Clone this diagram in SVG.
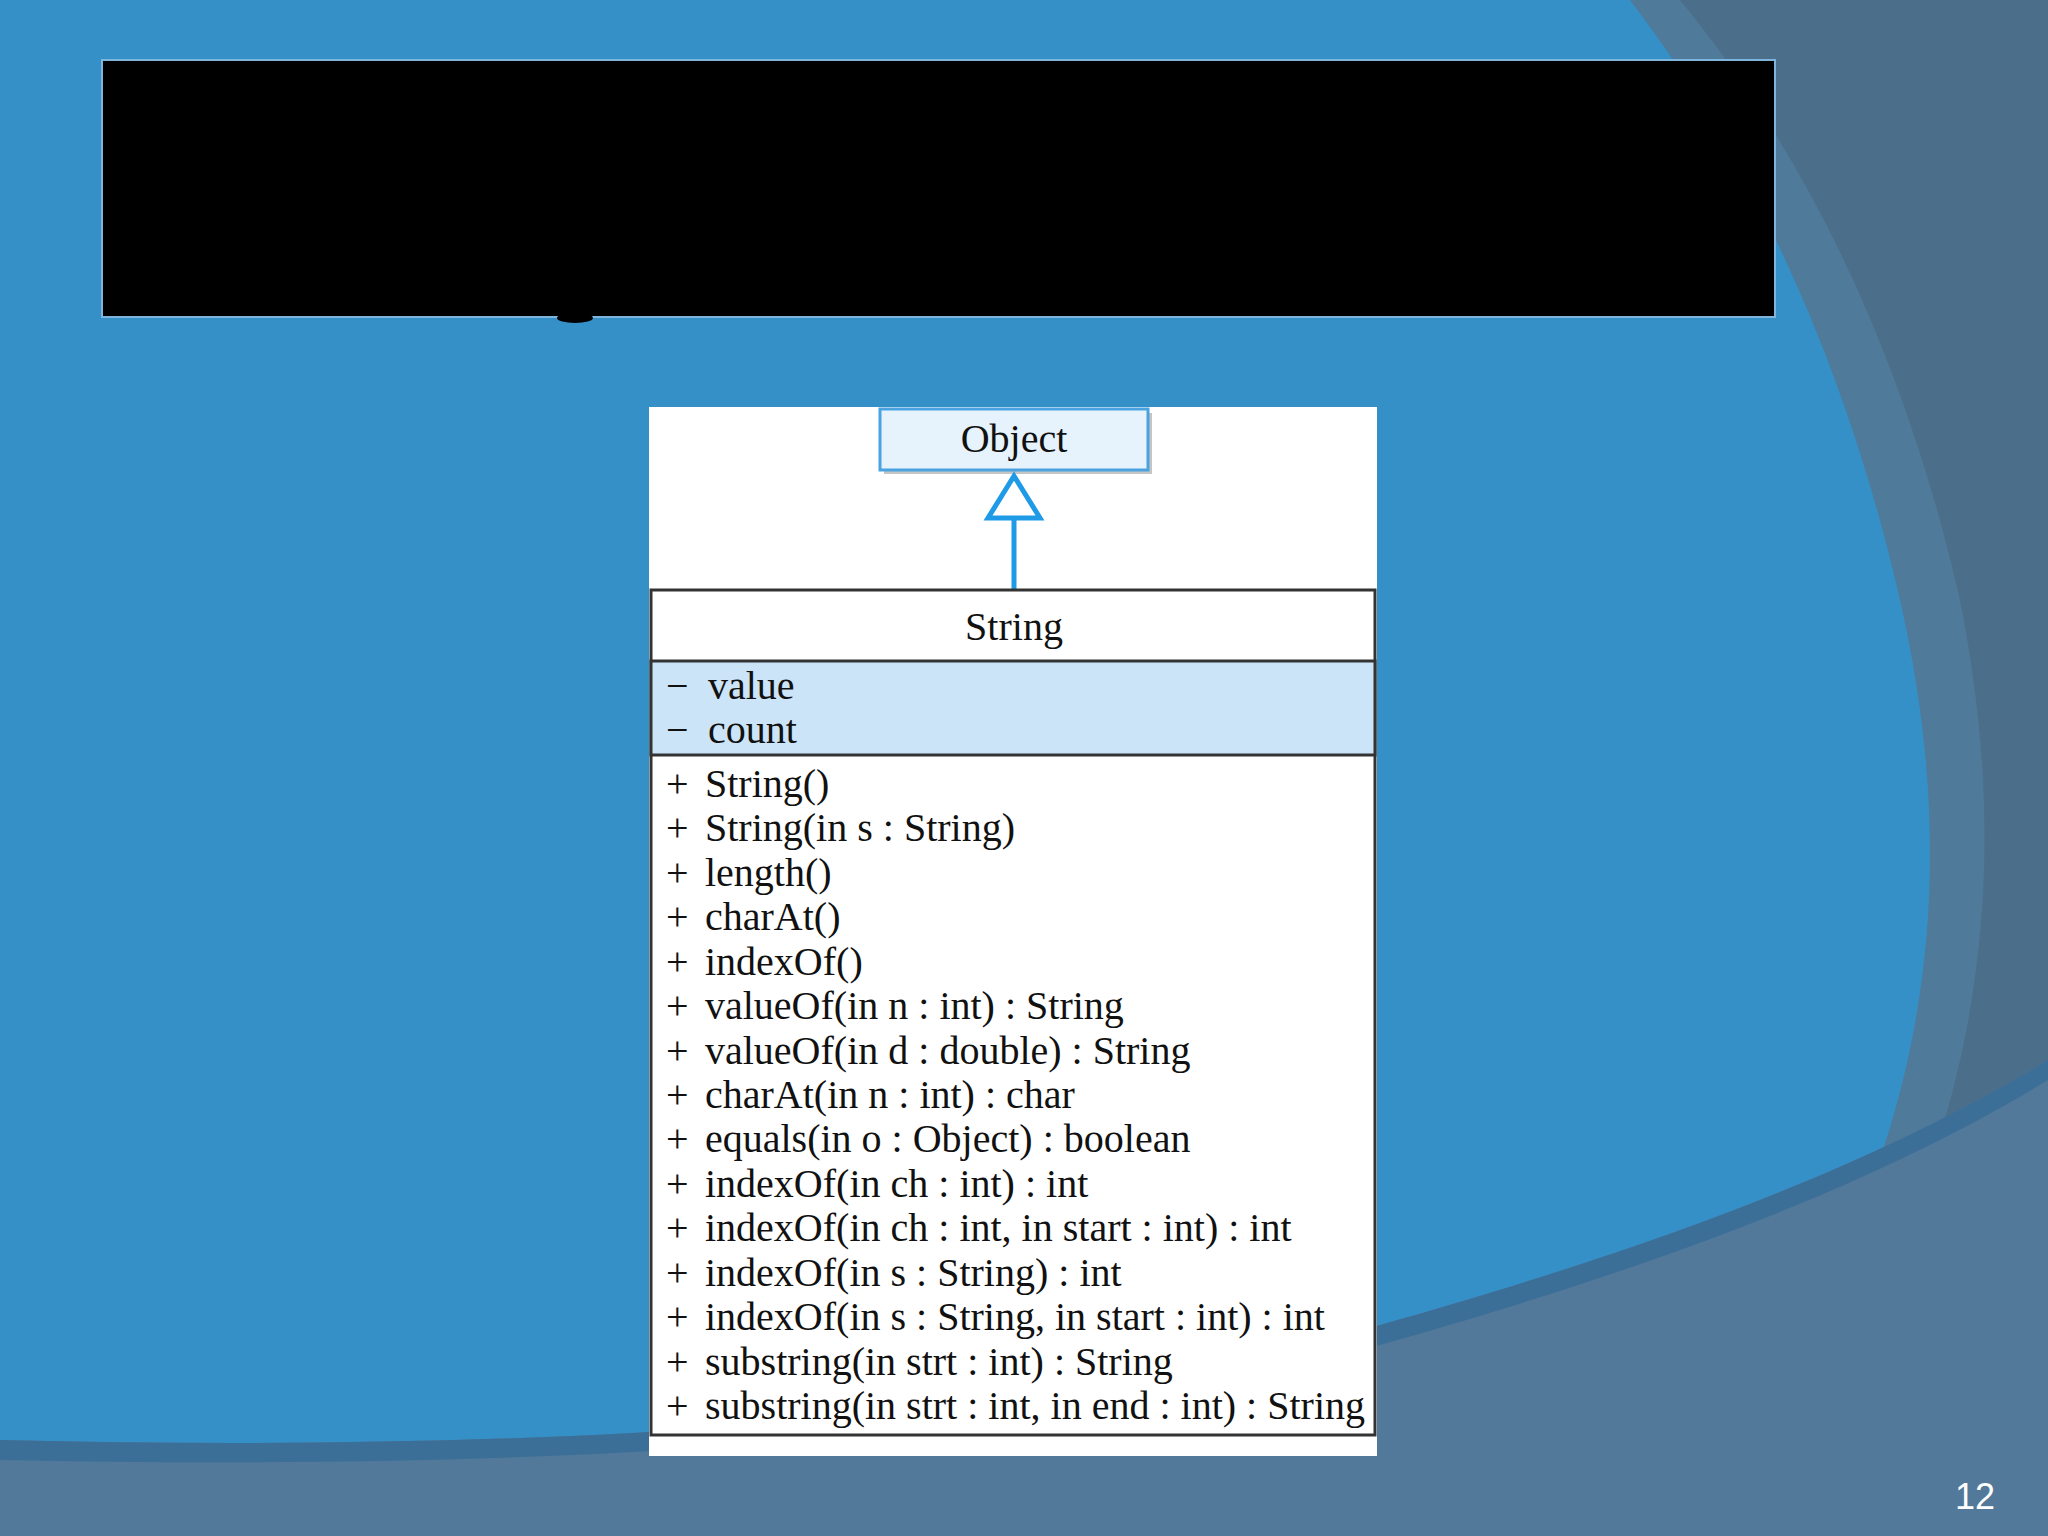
<svg xmlns="http://www.w3.org/2000/svg" width="2048" height="1536" viewBox="0 0 2048 1536">
<style>
.t{font-family:"Liberation Serif",serif;font-size:40px;fill:#111}
</style>
<rect width="2048" height="1536" fill="#3590c8"/>
<path d="M1630 0 L2048 0 L2048 1536 L1660 1536 C1900 1250 1980 950 1900 600 C1850 380 1760 170 1630 0 Z" fill="#4f7a99"/>
<path d="M1680 0 L2048 0 L2048 1536 L1720 1536 C1950 1250 2030 950 1960 600 C1910 380 1820 170 1680 0 Z" fill="#4a6682" opacity="0.6"/>
<path d="M0 1440 C500 1452 1000 1430 1380 1325 C1700 1235 1900 1150 2048 1060 L2048 1536 L0 1536 Z" fill="#52799a"/>
<path d="M0 1440 C500 1452 1000 1430 1380 1325 C1700 1235 1900 1150 2048 1060 L2048 1080 C1900 1170 1700 1255 1380 1345 C1000 1450 500 1470 0 1460 Z" fill="#3c6f98"/>
<g id="title"><rect x="102" y="60" width="1673" height="257" fill="#000" stroke="#7fb4dc" stroke-width="2"/>
<ellipse cx="575" cy="318" rx="18" ry="5" fill="#000"/></g>
<rect x="649" y="407" width="728" height="1049" fill="#fff"/>
<g id="object"><rect x="884" y="413" width="268" height="61" fill="#c5c5c5"/>
<rect x="880" y="409" width="268" height="61" fill="#e6f2fc" stroke="#4aa3e0" stroke-width="3"/>
<text class="t" x="1014" y="452" text-anchor="middle">Object</text></g>
<g id="connectors"><line x1="1014" y1="518" x2="1014" y2="590" stroke="#1f9ae6" stroke-width="5"/>
<path d="M1014 476 L988 518 L1040 518 Z" fill="#fff" stroke="#1f9ae6" stroke-width="5"/></g>
<g id="string"><rect x="651" y="590" width="724" height="845" fill="#fff" stroke="#333" stroke-width="3"/>
<rect x="651" y="661" width="724" height="94" fill="#cce4f8" stroke="#333" stroke-width="3"/>
<text class="t" x="1014" y="640" text-anchor="middle">String</text>
<g class="t"><text x="666" y="699">−</text><text x="666" y="743">−</text>
<text x="666" y="797">+</text><text x="666" y="841">+</text><text x="666" y="886">+</text><text x="666" y="930">+</text><text x="666" y="975">+</text><text x="666" y="1019">+</text><text x="666" y="1064">+</text><text x="666" y="1108">+</text><text x="666" y="1152">+</text><text x="666" y="1197">+</text><text x="666" y="1241">+</text><text x="666" y="1286">+</text><text x="666" y="1330">+</text><text x="666" y="1375">+</text><text x="666" y="1419">+</text></g>
<text class="t" x="708" y="699">value</text>
<text class="t" x="708" y="743">count</text>
<text class="t" x="705" y="797">String()</text>
<text class="t" x="705" y="841">String(in s : String)</text>
<text class="t" x="705" y="886">length()</text>
<text class="t" x="705" y="930">charAt()</text>
<text class="t" x="705" y="975">indexOf()</text>
<text class="t" x="705" y="1019">valueOf(in n : int) : String</text>
<text class="t" x="705" y="1064">valueOf(in d : double) : String</text>
<text class="t" x="705" y="1108">charAt(in n : int) : char</text>
<text class="t" x="705" y="1152">equals(in o : Object) : boolean</text>
<text class="t" x="705" y="1197">indexOf(in ch : int) : int</text>
<text class="t" x="705" y="1241">indexOf(in ch : int, in start : int) : int</text>
<text class="t" x="705" y="1286">indexOf(in s : String) : int</text>
<text class="t" x="705" y="1330">indexOf(in s : String, in start : int) : int</text>
<text class="t" x="705" y="1375">substring(in strt : int) : String</text>
<text class="t" x="705" y="1419">substring(in strt : int, in end : int) : String</text></g>
<text x="1975" y="1509" font-family="Liberation Sans,sans-serif" font-size="36" fill="#fff" text-anchor="middle">12</text>
</svg>
